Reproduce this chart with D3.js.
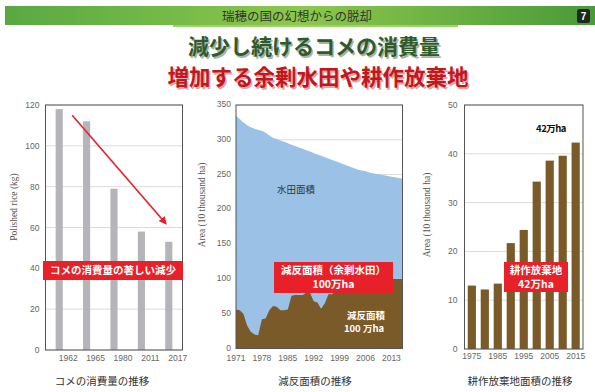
<!DOCTYPE html>
<html><head><meta charset="utf-8">
<script src="https://cdn.jsdelivr.net/npm/d3@7"></script>
<style>
html,body{margin:0;padding:0;background:#fff;}
svg{display:block;}
</style></head>
<body>
<svg id="c" width="595" height="392"></svg>
<script>
// ---- data ----
const riceYears = ["1962","1965","1980","2011","2017"];
const riceValues = [118, 112, 79, 58, 53];
const riceTicks = [0,20,40,60,80,100,120];

const areaYears = d3.range(1971, 2017);
const paddyArea = [335,330,325,321,318,316,314,313,310,306,303,301,299,297,295,293,291,289,287,285,283,281,279,277,275,273,271,269,267,265,263,261,259,257,256,255,253,252,251,250,249,248,247,246,245,244];
const setAside  = [56,55,50,33,24,20,19,42,43,55,61,60,55,55,56,76,77,77,77,80,80,68,66,57,65,78,78,84,86,92,100,100,100,100,100,100,100,100,100,100,100,100,100,100,100,100];
const areaTicks = [0,50,100,150,200,250,300,350];
const areaTickYears = [1971,1978,1985,1992,1999,2006,2013];

const abandonYears = ["1975","1980","1985","1990","1995","2000","2005","2010","2015"];
const abandonValues = [13.0,12.2,13.4,21.7,24.4,34.3,38.6,39.6,42.3];
const abandonTicks = [0,10,20,30,40,50];
const abandonTickLabels = ["1975","1985","1995","2005","2015"];

// ---- setup ----
const svg = d3.select("#c");
const JP = "'Noto Sans CJK JP','Noto Sans',sans-serif";
const SANS = "'Liberation Sans',Arial,sans-serif";
const SERIF = "'Liberation Serif','Times New Roman',serif";
const defs = svg.append("defs");

// header
const g1 = defs.append("linearGradient").attr("id","hdr").attr("x1","0").attr("x2","1");
g1.append("stop").attr("offset","0").attr("stop-color","#58a843");
g1.append("stop").attr("offset","0.5").attr("stop-color","#8cc84b");
g1.append("stop").attr("offset","1").attr("stop-color","#4a9a3a");
svg.append("rect").attr("x",5).attr("y",6).attr("width",590).attr("height",19).attr("fill","url(#hdr)");
svg.append("rect").attr("x",173).attr("y",25).attr("width",285).attr("height",2).attr("fill","#9fd36a");
svg.append("text").attr("x",297).attr("y",20.5).attr("text-anchor","middle")
  .attr("font-family",JP).attr("font-size",12.5).attr("fill","#333").text("瑞穂の国の幻想からの脱却");
svg.append("rect").attr("x",577).attr("y",9).attr("width",13).attr("height",14).attr("rx",2.5).attr("fill","#1c2a1c");
svg.append("text").attr("x",583.5).attr("y",20).attr("text-anchor","middle")
  .attr("font-family",SANS).attr("font-weight","bold").attr("font-size",10).attr("fill","#fff").text("7");

// titles with shadow
function shadowText(x,y,txt,color,shadow,size){
  svg.append("text").attr("x",x+1.5).attr("y",y+1.5).attr("text-anchor","middle")
    .attr("font-family",JP).attr("font-weight","bold").attr("font-size",size).attr("fill",shadow).text(txt);
  svg.append("text").attr("x",x).attr("y",y).attr("text-anchor","middle")
    .attr("font-family",JP).attr("font-weight","bold").attr("font-size",size).attr("fill",color).text(txt);
}
shadowText(314,54,"減少し続けるコメの消費量","#2f5a2a","#a9b3a6",21);
shadowText(318,85,"増加する余剰水田や耕作放棄地","#c4161c","#d9a9a9",21.5);

// helpers
function grid(g, y, ticks, x0, x1){
  g.selectAll(null).data(ticks).enter().append("line")
    .attr("x1",x0).attr("x2",x1).attr("y1",d=>y(d)).attr("y2",d=>y(d))
    .attr("stroke","#dcdcdc").attr("stroke-width",1);
}
function yLabels(g, y, ticks, x, dy){
  g.selectAll(null).data(ticks).enter().append("text")
    .attr("x",x).attr("y",d=>y(d)+(dy===undefined?3:dy)).attr("text-anchor","end")
    .attr("font-family",SANS).attr("font-size",8.5).attr("fill","#666").text(d=>d);
}
function frame(g,x0,y0,x1,y1){
  g.append("rect").attr("x",x0).attr("y",y0).attr("width",x1-x0).attr("height",y1-y0)
    .attr("fill","none").attr("stroke","#555").attr("stroke-width",1);
}
function yTitle(g,x,y,txt){
  g.append("text").attr("transform",`translate(${x},${y}) rotate(-90)`).attr("text-anchor","middle")
    .attr("font-family",SERIF).attr("font-size",9.5).attr("fill","#555").text(txt);
}
function redBox(x0,y0,x1,y1,lines,size){
  svg.append("rect").attr("x",x0).attr("y",y0).attr("width",x1-x0).attr("height",y1-y0).attr("fill","#e8202a");
  const cx=(x0+x1)/2, n=lines.length, lh=size*1.3, cy=(y0+y1)/2;
  lines.forEach((t,i)=>{
    svg.append("text").attr("x",cx).attr("y",cy+(i-(n-1)/2)*lh+size*0.36).attr("text-anchor","middle")
      .attr("font-family",JP).attr("font-weight","bold").attr("font-size",size).attr("fill","#fff").text(t);
  });
}
function caption(x,txt){
  svg.append("text").attr("x",x).attr("y",385).attr("text-anchor","middle")
    .attr("font-family",JP).attr("font-size",10.5).attr("fill","#333").text(txt);
}

// ---- left chart ----
{
  const L=45.5,R=182.5,T=105,B=350;
  const x=d3.scaleBand().domain(riceYears).range([L,R]).paddingInner(0.74).paddingOuter(0.37);
  const y=d3.scaleLinear().domain([0,120]).range([B,T]);
  const g=svg.append("g");
  grid(g,y,riceTicks,L,R);
  g.selectAll(null).data(riceValues).enter().append("rect")
    .attr("x",(d,i)=>x(riceYears[i])).attr("width",x.bandwidth())
    .attr("y",d=>y(d)).attr("height",d=>B-y(d)).attr("fill","#b4b4b9");
  frame(g,L,T,R,B);
  yLabels(g,y,riceTicks,L-6);
  g.selectAll(null).data(riceYears).enter().append("text")
    .attr("x",d=>x(d)+x.bandwidth()/2+9).attr("y",361).attr("text-anchor","middle")
    .attr("font-family",SANS).attr("font-size",8.5).attr("fill","#666").text(d=>d);
  yTitle(g,17,207,"Polished rice (kg)");
  // arrow
  defs.append("marker").attr("id","arr").attr("viewBox","0 0 10 10").attr("refX",8).attr("refY",5)
    .attr("markerWidth",5).attr("markerHeight",5).attr("orient","auto")
    .append("path").attr("d","M0,0L10,5L0,10z").attr("fill","#e8202a");
  g.append("line").attr("x1",x(riceYears[0])+x.bandwidth()/2+13).attr("y1",y(115))
    .attr("x2",x(riceYears[4])+x.bandwidth()/2-3).attr("y2",y(62))
    .attr("stroke","#e8202a").attr("stroke-width",1.6).attr("marker-end","url(#arr)");
  redBox(43,261,183,280,["コメの消費量の著しい減少"],10.5);
  caption(102,"コメの消費量の推移");
}

// ---- middle chart ----
{
  const L=236,R=402.5,T=105,B=348.5;
  const x=d3.scaleLinear().domain([1971,2016]).range([L,R]);
  const y=d3.scaleLinear().domain([0,350]).range([B,T]);
  const g=svg.append("g");
  grid(g,y,areaTicks,L,R);
  const aP=d3.area().x((d,i)=>x(areaYears[i])).y0(B).y1(d=>y(d));
  g.append("path").attr("d",aP(paddyArea)).attr("fill","#9bc2e6");
  g.append("path").attr("d",aP(setAside)).attr("fill","#7a5a28");
  frame(g,L,T,R,B);
  yLabels(g,y,areaTicks,L-5,2);
  g.selectAll(null).data(areaTickYears).enter().append("text")
    .attr("x",d=>x(d)).attr("y",361).attr("text-anchor","middle")
    .attr("font-family",SANS).attr("font-size",8.5).attr("fill","#666").text(d=>d);
  yTitle(g,205,205,"Area (10 thousand ha)");
  g.append("text").attr("x",296).attr("y",193).attr("text-anchor","middle")
    .attr("font-family",JP).attr("font-size",9.5).attr("fill","#333").text("水田面積");
  g.append("text").attr("x",366).attr("y",318.5).attr("text-anchor","middle")
    .attr("font-family",JP).attr("font-weight","bold").attr("font-size",9.5).attr("fill","#fff").text("減反面積");
  g.append("text").attr("x",364).attr("y",331.5).attr("text-anchor","middle")
    .attr("font-family",JP).attr("font-weight","bold").attr("font-size",9.5).attr("fill","#fff").text("100 万ha");
  redBox(274,262,393,293,["減反面積（余剰水田）","100万ha"],10.5);
  caption(315,"減反面積の推移");
}

// ---- right chart ----
{
  const L=464.5,R=583,T=105,B=349;
  const x=d3.scaleBand().domain(abandonYears).range([L,R]).paddingInner(0.37).paddingOuter(0.25);
  const y=d3.scaleLinear().domain([0,50]).range([B,T]);
  const g=svg.append("g");
  grid(g,y,abandonTicks,L,R);
  g.selectAll(null).data(abandonValues).enter().append("rect")
    .attr("x",(d,i)=>x(abandonYears[i])).attr("width",x.bandwidth())
    .attr("y",d=>y(d)).attr("height",d=>B-y(d)).attr("fill","#7a5a28");
  frame(g,L,T,R,B);
  yLabels(g,y,abandonTicks,L-7);
  g.selectAll(null).data(abandonTickLabels).enter().append("text")
    .attr("x",d=>x(d)+x.bandwidth()/2).attr("y",359).attr("text-anchor","middle")
    .attr("font-family",SANS).attr("font-size",8.5).attr("fill","#666").text(d=>d);
  yTitle(g,430,215,"Area (10 thousand ha)");
  g.append("text").attr("x",551).attr("y",132).attr("text-anchor","middle")
    .attr("font-family",JP).attr("font-weight","bold").attr("font-size",9.5).attr("letter-spacing",-0.5)
    .attr("fill","#111").text("42万ha");
  redBox(504,262,568,292,["耕作放棄地","42万ha"],10.5);
  caption(520,"耕作放棄地面積の推移");
}
</script>
</body></html>
